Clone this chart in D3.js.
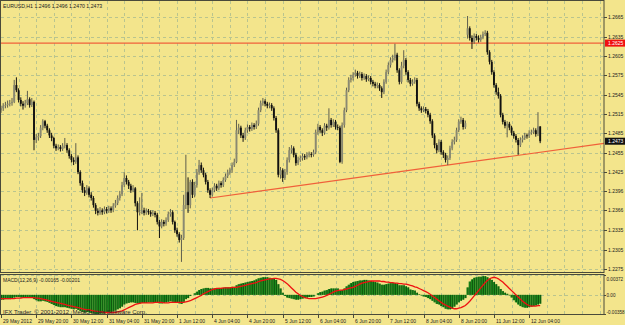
<!DOCTYPE html>
<html>
<head>
<meta charset="utf-8">
<style>
  html, body { margin: 0; padding: 0; background: #f3e58c; }
  svg { display: block; }
  text { font-family: "Liberation Sans", Arial, sans-serif; }
</style>
</head>
<body>
<svg width="625" height="325"></svg>
<script src="https://cdn.jsdelivr.net/npm/d3@7"></script>
<script type="module">
    const width = 625;
    const height = 325;

    // EURUSD H1, first bar = 29 May 2012 04:00
    const opens = [
        1.2521,1.2524,1.2528,1.2529,1.2531,1.2532,1.2534,1.2560,1.2552,1.2537,1.2531,1.2528,1.2532,1.2538,1.2529,1.2534,1.2475,1.2479,1.2481,1.2494,
        1.2504,1.2497,1.2490,1.2482,1.2478,1.2466,1.2462,1.2464,1.2461,1.2466,1.2467,1.2459,1.2450,1.2444,1.2441,1.2448,1.2425,1.2408,1.2397,1.2393,
        1.2400,1.2390,1.2385,1.2374,1.2365,1.2362,1.2366,1.2363,1.2368,1.2365,1.2369,1.2366,1.2373,1.2377,1.2385,1.2391,1.2405,1.2416,1.2410,1.2404,
        1.2397,1.2400,1.2377,1.2363,1.2363,1.2366,1.2362,1.2365,1.2363,1.2360,1.2362,1.2359,1.2348,1.2341,1.2348,1.2345,1.2351,1.2360,1.2363,1.2348,
        1.2335,1.2329,1.2320,1.2323,1.2374,1.2394,1.2374,1.2410,1.2390,1.2405,1.2425,1.2436,1.2428,1.2421,1.2410,1.2397,1.2390,1.2397,1.2404,1.2400,
        1.2408,1.2405,1.2413,1.2419,1.2425,1.2428,1.2436,1.2441,1.2490,1.2494,1.2482,1.2478,1.2490,1.2495,1.2492,1.2498,1.2495,1.2500,1.2521,1.2532,
        1.2535,1.2531,1.2528,1.2529,1.2524,1.2509,1.2490,1.2421,1.2428,1.2416,1.2425,1.2444,1.2459,1.2462,1.2452,1.2439,1.2444,1.2447,1.2450,1.2448,
        1.2452,1.2453,1.2452,1.2456,1.2487,1.2495,1.2490,1.2486,1.2497,1.2494,1.2506,1.2498,1.2503,1.2495,1.2494,1.2441,1.2498,1.2521,1.2552,1.2568,
        1.2571,1.2576,1.2579,1.2574,1.2577,1.2571,1.2574,1.2569,1.2571,1.2565,1.2562,1.2559,1.2560,1.2555,1.2549,1.2565,1.2580,1.2591,1.2599,1.2602,
        1.2607,1.2583,1.2565,1.2590,1.2599,1.2580,1.2568,1.2562,1.2565,1.2568,1.2531,1.2524,1.2521,1.2523,1.2520,1.2514,1.2504,1.2482,1.2467,1.2459,
        1.2472,1.2456,1.2452,1.2444,1.2447,1.2462,1.2472,1.2475,1.2490,1.2503,1.2506,1.2495,1.2638,1.2648,1.2633,1.2627,1.2636,1.2633,1.2630,1.2634,
        1.2639,1.2641,1.2611,1.2596,1.2580,1.2560,1.2549,1.2543,1.2514,1.2503,1.2497,1.2500,1.2494,1.2486,1.2481,1.2475,1.2467,1.2475,1.2478,1.2482,
        1.2481,1.2486,1.2487,1.2490,1.2484,1.2496
    ];
    const highs = [
        1.2528,1.2532,1.2534,1.2536,1.2537,1.2540,1.2568,1.2572,1.2555,1.2541,1.2535,1.2537,1.2551,1.2541,1.2540,1.2536,1.2484,1.2486,1.2498,1.2507,
        1.2506,1.2500,1.2493,1.2486,1.2480,1.2469,1.2468,1.2467,1.2470,1.2478,1.2470,1.2462,1.2453,1.2448,1.2470,1.2451,1.2428,1.2412,1.2402,1.2405,
        1.2403,1.2394,1.2388,1.2377,1.2369,1.2371,1.2369,1.2372,1.2371,1.2373,1.2372,1.2377,1.2382,1.2389,1.2396,1.2410,1.2425,1.2420,1.2413,1.2407,
        1.2405,1.2402,1.2380,1.2386,1.2393,1.2370,1.2369,1.2368,1.2366,1.2366,1.2365,1.2362,1.2351,1.2352,1.2351,1.2355,1.2364,1.2368,1.2366,1.2350,
        1.2339,1.2332,1.2328,1.2390,1.2452,1.2417,1.2413,1.2414,1.2410,1.2430,1.2444,1.2440,1.2432,1.2424,1.2413,1.2400,1.2401,1.2408,1.2407,1.2412,
        1.2411,1.2417,1.2423,1.2429,1.2432,1.2440,1.2446,1.2506,1.2500,1.2497,1.2486,1.2494,1.2499,1.2498,1.2502,1.2501,1.2505,1.2525,1.2536,1.2540,
        1.2538,1.2534,1.2533,1.2532,1.2527,1.2512,1.2493,1.2433,1.2431,1.2430,1.2448,1.2464,1.2467,1.2465,1.2455,1.2449,1.2451,1.2454,1.2453,1.2456,
        1.2457,1.2456,1.2460,1.2491,1.2500,1.2498,1.2493,1.2501,1.2500,1.2524,1.2509,1.2507,1.2506,1.2499,1.2497,1.2502,1.2525,1.2556,1.2572,1.2576,
        1.2580,1.2584,1.2582,1.2581,1.2580,1.2578,1.2577,1.2575,1.2574,1.2568,1.2565,1.2564,1.2563,1.2558,1.2569,1.2584,1.2595,1.2603,1.2607,1.2624,
        1.2610,1.2586,1.2596,1.2614,1.2602,1.2583,1.2571,1.2569,1.2572,1.2571,1.2534,1.2527,1.2527,1.2526,1.2523,1.2517,1.2507,1.2485,1.2470,1.2476,
        1.2475,1.2459,1.2455,1.2451,1.2466,1.2476,1.2480,1.2494,1.2507,1.2511,1.2509,1.2505,1.2667,1.2651,1.2637,1.2640,1.2639,1.2637,1.2638,1.2643,
        1.2645,1.2644,1.2614,1.2599,1.2583,1.2563,1.2556,1.2546,1.2517,1.2506,1.2504,1.2503,1.2497,1.2489,1.2484,1.2478,1.2479,1.2482,1.2486,1.2485,
        1.2490,1.2491,1.2494,1.2493,1.2518,1.2496
    ];
    const lows = [
        1.2517,1.2520,1.2524,1.2525,1.2527,1.2528,1.2532,1.2549,1.2533,1.2527,1.2522,1.2525,1.2529,1.2525,1.2526,1.2459,1.2470,1.2474,1.2478,1.2490,
        1.2493,1.2486,1.2478,1.2473,1.2462,1.2458,1.2459,1.2457,1.2458,1.2462,1.2455,1.2446,1.2440,1.2436,1.2438,1.2422,1.2404,1.2393,1.2388,1.2390,
        1.2386,1.2381,1.2370,1.2360,1.2358,1.2359,1.2359,1.2360,1.2361,1.2362,1.2362,1.2363,1.2370,1.2374,1.2381,1.2388,1.2402,1.2406,1.2399,1.2393,
        1.2394,1.2372,1.2335,1.2358,1.2360,1.2358,1.2359,1.2359,1.2356,1.2357,1.2355,1.2344,1.2323,1.2338,1.2341,1.2342,1.2348,1.2356,1.2344,1.2331,
        1.2325,1.2316,1.2286,1.2320,1.2368,1.2362,1.2369,1.2385,1.2386,1.2401,1.2421,1.2424,1.2417,1.2406,1.2393,1.2385,1.2387,1.2394,1.2396,1.2397,
        1.2401,1.2402,1.2410,1.2416,1.2421,1.2424,1.2433,1.2439,1.2484,1.2478,1.2472,1.2475,1.2486,1.2488,1.2489,1.2491,1.2492,1.2497,1.2518,1.2528,
        1.2527,1.2524,1.2524,1.2520,1.2505,1.2486,1.2417,1.2415,1.2410,1.2413,1.2421,1.2440,1.2454,1.2448,1.2435,1.2436,1.2441,1.2443,1.2444,1.2445,
        1.2448,1.2448,1.2449,1.2453,1.2483,1.2486,1.2481,1.2483,1.2489,1.2491,1.2494,1.2495,1.2491,1.2490,1.2439,1.2438,1.2494,1.2518,1.2549,1.2564,
        1.2567,1.2573,1.2570,1.2571,1.2567,1.2568,1.2565,1.2566,1.2561,1.2558,1.2555,1.2555,1.2551,1.2540,1.2546,1.2562,1.2577,1.2587,1.2595,1.2598,
        1.2579,1.2561,1.2562,1.2586,1.2576,1.2564,1.2558,1.2559,1.2562,1.2527,1.2520,1.2517,1.2518,1.2516,1.2510,1.2500,1.2478,1.2462,1.2454,1.2456,
        1.2452,1.2447,1.2440,1.2436,1.2444,1.2459,1.2468,1.2472,1.2487,1.2500,1.2491,1.2492,1.2632,1.2629,1.2616,1.2624,1.2629,1.2626,1.2627,1.2631,
        1.2636,1.2607,1.2592,1.2576,1.2556,1.2545,1.2539,1.2510,1.2499,1.2493,1.2479,1.2490,1.2482,1.2477,1.2471,1.2452,1.2464,1.2471,1.2475,1.2477,
        1.2478,1.2483,1.2484,1.2480,1.2481,1.2470
    ];
    const closes = [
        1.2524,1.2528,1.2529,1.2531,1.2532,1.2534,1.2560,1.2552,1.2537,1.2531,1.2528,1.2532,1.2538,1.2529,1.2534,1.2475,1.2479,1.2481,1.2494,1.2504,
        1.2497,1.2490,1.2482,1.2478,1.2466,1.2462,1.2464,1.2461,1.2466,1.2467,1.2459,1.2450,1.2444,1.2441,1.2448,1.2425,1.2408,1.2397,1.2393,1.2400,
        1.2390,1.2385,1.2374,1.2365,1.2362,1.2366,1.2363,1.2368,1.2365,1.2369,1.2366,1.2373,1.2377,1.2385,1.2391,1.2405,1.2416,1.2410,1.2404,1.2397,
        1.2400,1.2377,1.2363,1.2363,1.2366,1.2362,1.2365,1.2363,1.2360,1.2362,1.2359,1.2348,1.2341,1.2348,1.2345,1.2351,1.2360,1.2363,1.2348,1.2335,
        1.2329,1.2320,1.2323,1.2374,1.2394,1.2374,1.2410,1.2390,1.2405,1.2425,1.2436,1.2428,1.2421,1.2410,1.2397,1.2390,1.2397,1.2404,1.2400,1.2408,
        1.2405,1.2413,1.2419,1.2425,1.2428,1.2436,1.2441,1.2490,1.2494,1.2482,1.2478,1.2490,1.2495,1.2492,1.2498,1.2495,1.2500,1.2521,1.2532,1.2535,
        1.2531,1.2528,1.2529,1.2524,1.2509,1.2490,1.2421,1.2428,1.2416,1.2425,1.2444,1.2459,1.2462,1.2452,1.2439,1.2444,1.2447,1.2450,1.2448,1.2452,
        1.2453,1.2452,1.2456,1.2487,1.2495,1.2490,1.2486,1.2497,1.2494,1.2506,1.2498,1.2503,1.2495,1.2494,1.2441,1.2498,1.2521,1.2552,1.2568,1.2571,
        1.2576,1.2579,1.2574,1.2577,1.2571,1.2574,1.2569,1.2571,1.2565,1.2562,1.2559,1.2560,1.2555,1.2549,1.2565,1.2580,1.2591,1.2599,1.2602,1.2607,
        1.2583,1.2565,1.2590,1.2599,1.2580,1.2568,1.2562,1.2565,1.2568,1.2531,1.2524,1.2521,1.2523,1.2520,1.2514,1.2504,1.2482,1.2467,1.2459,1.2472,
        1.2456,1.2452,1.2444,1.2447,1.2462,1.2472,1.2475,1.2490,1.2503,1.2506,1.2495,1.2501,1.2648,1.2633,1.2627,1.2636,1.2633,1.2630,1.2634,1.2639,
        1.2641,1.2611,1.2596,1.2580,1.2560,1.2549,1.2543,1.2514,1.2503,1.2497,1.2500,1.2494,1.2486,1.2481,1.2475,1.2467,1.2475,1.2478,1.2482,1.2481,
        1.2486,1.2487,1.2490,1.2484,1.2496,1.2473
    ];

    const macdMain = [
        -0.0009,-0.0009,-0.0008,-0.0008,-0.0008,-0.0007,-0.0005,-0.0004,-0.0004,-0.0005,-0.0005,-0.0005,-0.0004,-0.0005,-0.0005,-0.0008,-0.0010,-0.0012,-0.0012,-0.0011,
        -0.0012,-0.0013,-0.0015,-0.0017,-0.0019,-0.0021,-0.0022,-0.0023,-0.0023,-0.0023,-0.0024,-0.0025,-0.0026,-0.0027,-0.0026,-0.0028,-0.0030,-0.0032,-0.0033,-0.0032,
        -0.0033,-0.0034,-0.0035,-0.0036,-0.0036,-0.0035,-0.0035,-0.0035,-0.0034,-0.0033,-0.0032,-0.0031,-0.0029,-0.0027,-0.0025,-0.0022,-0.0018,-0.0016,-0.0015,-0.0014,
        -0.0014,-0.0015,-0.0016,-0.0016,-0.0015,-0.0015,-0.0015,-0.0014,-0.0014,-0.0014,-0.0014,-0.0015,-0.0016,-0.0016,-0.0015,-0.0014,-0.0013,-0.0012,-0.0013,-0.0014,
        -0.0015,-0.0016,-0.0017,-0.0013,-0.0008,-0.0006,-0.0002,0.0000,0.0003,0.0006,0.0009,0.0011,0.0012,0.0013,0.0013,0.0012,0.0012,0.0012,0.0012,0.0013,
        0.0013,0.0013,0.0014,0.0014,0.0014,0.0015,0.0015,0.0018,0.0020,0.0021,0.0022,0.0023,0.0024,0.0025,0.0026,0.0027,0.0029,0.0031,0.0032,0.0033,
        0.0033,0.0033,0.0032,0.0031,0.0030,0.0028,0.0020,0.0012,0.0004,-0.0002,-0.0005,-0.0006,-0.0007,-0.0008,-0.0009,-0.0009,-0.0008,-0.0007,-0.0006,-0.0005,
        -0.0004,-0.0004,-0.0003,0.0000,0.0003,0.0005,0.0006,0.0008,0.0009,0.0011,0.0012,0.0012,0.0012,0.0012,0.0008,0.0009,0.0012,0.0016,0.0019,0.0022,
        0.0024,0.0025,0.0026,0.0027,0.0027,0.0028,0.0028,0.0027,0.0026,0.0025,0.0024,0.0023,0.0021,0.0019,0.0019,0.0020,0.0021,0.0022,0.0022,0.0022,
        0.0021,0.0018,0.0018,0.0018,0.0016,0.0014,0.0010,0.0009,0.0008,0.0004,0.0001,-0.0001,-0.0003,-0.0004,-0.0006,-0.0008,-0.0011,-0.0014,-0.0017,-0.0018,
        -0.0021,-0.0023,-0.0026,-0.0027,-0.0027,-0.0026,-0.0022,-0.0018,-0.0014,-0.0011,-0.0009,-0.0006,0.0014,0.0025,0.0029,0.0032,0.0033,0.0034,0.0034,0.0035,
        0.0035,0.0033,0.0030,0.0028,0.0024,0.0020,0.0016,0.0011,0.0007,0.0004,0.0002,-0.0001,-0.0005,-0.0010,-0.0014,-0.0018,-0.0021,-0.0023,-0.0024,-0.0024,
        -0.0023,-0.0022,-0.0021,-0.0020,-0.0018,-0.00165
    ];
    const macdSignal = [
        -0.0007,-0.0007,-0.0007,-0.0007,-0.0007,-0.0007,-0.0007,-0.0006,-0.0006,-0.0006,-0.0005,-0.0005,-0.0005,-0.0005,-0.0005,-0.0005,-0.0006,-0.0006,-0.0007,-0.0008,
        -0.0009,-0.0010,-0.0011,-0.0012,-0.0013,-0.0014,-0.0015,-0.0016,-0.0017,-0.0018,-0.0019,-0.0020,-0.0021,-0.0022,-0.0023,-0.0024,-0.0025,-0.0026,-0.0027,-0.0028,
        -0.0028,-0.0029,-0.0030,-0.0031,-0.0031,-0.0032,-0.0032,-0.0033,-0.0033,-0.0033,-0.0033,-0.0033,-0.0033,-0.0032,-0.0031,-0.0030,-0.0028,-0.0026,-0.0024,-0.0022,
        -0.0020,-0.0018,-0.0017,-0.0016,-0.0015,-0.0015,-0.0015,-0.0015,-0.0015,-0.0015,-0.0014,-0.0014,-0.0014,-0.0014,-0.0015,-0.0015,-0.0015,-0.0014,-0.0014,-0.0014,
        -0.0014,-0.0014,-0.0014,-0.0014,-0.0013,-0.0012,-0.0011,-0.0009,-0.0007,-0.0005,-0.0003,-0.0001,0.0002,0.0004,0.0006,0.0008,0.0010,0.0011,0.0012,0.0012,
        0.0012,0.0013,0.0013,0.0013,0.0013,0.0014,0.0014,0.0014,0.0015,0.0016,0.0017,0.0018,0.0019,0.0020,0.0021,0.0022,0.0023,0.0025,0.0026,0.0027,
        0.0028,0.0029,0.0030,0.0030,0.0031,0.0031,0.0030,0.0029,0.0027,0.0024,0.0021,0.0017,0.0013,0.0009,0.0005,0.0002,-0.0001,-0.0003,-0.0005,-0.0006,
        -0.0007,-0.0007,-0.0007,-0.0007,-0.0006,-0.0005,-0.0004,-0.0003,-0.0001,0.0001,0.0003,0.0005,0.0007,0.0008,0.0009,0.0009,0.0010,0.0011,0.0012,0.0013,
        0.0014,0.0016,0.0018,0.0020,0.0022,0.0023,0.0024,0.0025,0.0026,0.0026,0.0026,0.0026,0.0026,0.0025,0.0025,0.0024,0.0024,0.0023,0.0023,0.0022,
        0.0022,0.0021,0.0021,0.0020,0.0020,0.0019,0.0018,0.0017,0.0015,0.0014,0.0012,0.0010,0.0008,0.0006,0.0004,0.0001,-0.0002,-0.0005,-0.0008,-0.0011,
        -0.0014,-0.0017,-0.0019,-0.0021,-0.0023,-0.0025,-0.0026,-0.0026,-0.0025,-0.0024,-0.0022,-0.0020,-0.0016,-0.0012,-0.0007,-0.0002,0.0003,0.0008,0.0013,0.0018,
        0.0023,0.0027,0.0030,0.0032,0.0033,0.0032,0.0030,0.0027,0.0024,0.0020,0.0016,0.0012,0.0008,0.0004,0.0000,-0.0004,-0.0008,-0.0012,-0.0015,-0.0018,
        -0.0020,-0.0021,-0.0021,-0.0021,-0.0020,-0.00201
    ];

    // one time label every 16 bars
    const timeLabels = ["29 May 2012","29 May 20:00","30 May 12:00","31 May 04:00","31 May 20:00","1 Jun 12:00",
        "4 Jun 04:00","4 Jun 20:00","5 Jun 12:00","6 Jun 04:00","6 Jun 20:00","7 Jun 12:00",
        "8 Jun 04:00","8 Jun 20:00","11 Jun 12:00","12 Jun 04:00"];
    const priceTicks = [1.2665,1.2635,1.2605,1.2575,1.2545,1.2515,1.2485,1.2455,1.2425,1.2396,1.2366,1.2335,1.2305,1.2275];
    const macdTicks = [0.00372, 0, -0.00358];
    const macdTickLabels = ["0.00372", "0.00", "-0.00358"];

    const hLine = 1.2625;
    const trendStart = { bar: 95, price: 1.2385 };
    const trendEnd = { bar: 203, price: 1.2436 };

    const bg = "#f3e58c";
    const gridColor = "#b9c48f";

    const svg = d3.select("svg")
        .attr("width", width)
        .attr("height", height)
        .attr("viewBox", [0, 0, width, height]);

    svg.append("rect").attr("width", width).attr("height", height).attr("fill", bg);

    const left = 1, right = 604;
    const mainTop = 1, mainBottom = 272;
    const subTop = 275, subBottom = 314;

    const x = d3.scaleLinear().domain([0, 274]).range([left, right]);
    const y = d3.scaleLinear().domain([1.2275, 1.2665]).range([269, 17.3]);
    const ym = d3.scaleLinear().domain([-0.00358, 0.00372]).range([subBottom, subTop]);

    const bars = closes.map((c, i) => ({ i, o: opens[i], h: highs[i], l: lows[i], c }));

    // grid
    const gridBars = d3.range(8, 274, 8);
    const grid = svg.append("g")
        .attr("stroke", gridColor)
        .attr("stroke-width", 1)
        .attr("stroke-dasharray", "3,3");
    grid.selectAll("line.v").data(gridBars).enter().append("line")
        .attr("x1", d => Math.round(x(d)) + 0.5).attr("x2", d => Math.round(x(d)) + 0.5)
        .attr("y1", mainTop).attr("y2", mainBottom);
    grid.selectAll("line.h").data(priceTicks).enter().append("line")
        .attr("x1", left).attr("x2", right)
        .attr("y1", d => Math.round(y(d)) + 0.5).attr("y2", d => Math.round(y(d)) + 0.5);
    grid.selectAll("line.vs").data(gridBars).enter().append("line")
        .attr("x1", d => Math.round(x(d)) + 0.5).attr("x2", d => Math.round(x(d)) + 0.5)
        .attr("y1", subTop).attr("y2", subBottom);
    grid.selectAll("line.hs").data(macdTicks).enter().append("line")
        .attr("x1", left).attr("x2", right)
        .attr("y1", d => Math.round(ym(d)) + 0.5).attr("y2", d => Math.round(ym(d)) + 0.5);

    // horizontal level + trend line
    svg.append("line")
        .attr("x1", left).attr("x2", right)
        .attr("y1", y(hLine)).attr("y2", y(hLine))
        .attr("stroke", "#f0603a").attr("stroke-width", 1.2);

    const slope = (trendEnd.price - trendStart.price) / (trendEnd.bar - trendStart.bar);
    svg.append("line")
        .attr("x1", x(trendStart.bar)).attr("y1", y(trendStart.price))
        .attr("x2", x(274)).attr("y2", y(trendStart.price + slope * (274 - trendStart.bar)))
        .attr("stroke", "#f0603a").attr("stroke-width", 1.2);

    // candles
    const candles = svg.append("g").attr("class", "candles");
    candles.selectAll("line").data(bars).enter().append("line")
        .attr("x1", d => x(d.i)).attr("x2", d => x(d.i))
        .attr("y1", d => y(d.h)).attr("y2", d => y(d.l))
        .attr("stroke", d => d.c >= d.o ? "#5f5f4e" : "#111")
        .attr("stroke-width", 1);
    candles.selectAll("rect").data(bars).enter().append("rect")
        .attr("x", d => x(d.i) - 0.95)
        .attr("width", 1.9)
        .attr("y", d => y(Math.max(d.o, d.c)))
        .attr("height", d => Math.max(0.8, Math.abs(y(d.o) - y(d.c))))
        .attr("fill", d => d.c >= d.o ? "#8a8972" : "#111");

    // MACD histogram + signal
    const macd = svg.append("g").attr("class", "macd");
    macd.selectAll("rect").data(macdMain).enter().append("rect")
        .attr("x", (d, i) => x(i) - 1.1)
        .attr("width", 2.2)
        .attr("y", d => Math.min(ym(d), ym(0)))
        .attr("height", d => Math.abs(ym(d) - ym(0)))
        .attr("fill", "#1b8a1b");
    macd.selectAll("line").data(macdMain).enter().append("line")
        .attr("x1", (d, i) => x(i) + 0.5).attr("x2", (d, i) => x(i) + 0.5)
        .attr("y1", d => ym(d)).attr("y2", ym(0))
        .attr("stroke", "#0a400a").attr("stroke-width", 0.7);
    macd.append("path")
        .datum(macdSignal)
        .attr("fill", "none")
        .attr("stroke", "#ee1111")
        .attr("stroke-width", 1.3)
        .attr("d", d3.line().x((d, i) => x(i)).y(d => ym(d)));

    // frames
    const frame = svg.append("g").attr("fill", "none").attr("stroke", "#4a4a3a").attr("stroke-width", 1);
    frame.append("rect").attr("x", 0.5).attr("y", 0.5).attr("width", right - 0.5).attr("height", mainBottom);
    frame.append("rect").attr("x", 0.5).attr("y", subTop - 0.5).attr("width", right - 0.5).attr("height", subBottom - subTop + 1);

    // price axis
    const axisG = svg.append("g").attr("font-size", 5).attr("fill", "#222");
    priceTicks.forEach(p => {
        const yy = Math.round(y(p)) + 0.5;
        axisG.append("line").attr("x1", right).attr("x2", right + 3).attr("y1", yy).attr("y2", yy).attr("stroke", "#4a4a3a");
        axisG.append("text").attr("x", right + 4).attr("y", yy).attr("dy", "0.35em").text(p.toFixed(4));
    });

    function priceTag(p, fill) {
        const yy = y(p);
        axisG.append("rect").attr("x", right + 1).attr("y", yy - 3.5).attr("width", 20).attr("height", 7).attr("fill", fill);
        axisG.append("text").attr("x", right + 4).attr("y", yy).attr("dy", "0.35em").attr("fill", "#fff").text(p.toFixed(4));
    }
    priceTag(hLine, "#f01010");
    priceTag(closes[closes.length - 1], "#111");

    macdTicks.forEach((v, k) => {
        const yy = Math.round(ym(v)) + 0.5;
        const off = k === 0 ? 4 : (k === 2 ? -2 : 0);
        axisG.append("line").attr("x1", right).attr("x2", right + 2).attr("y1", yy).attr("y2", yy).attr("stroke", "#4a4a3a");
        axisG.append("text").attr("x", right + 2.5).attr("y", yy + off).attr("dy", "0.35em")
            .attr("font-size", 4.6).text(macdTickLabels[k]);
    });

    // time axis
    timeLabels.forEach((t, k) => {
        const xx = Math.round(x(k * 16)) + 0.5;
        axisG.append("line").attr("x1", xx).attr("x2", xx).attr("y1", subBottom + 1).attr("y2", subBottom + 4).attr("stroke", "#4a4a3a");
        axisG.append("text").attr("x", xx + 1.5).attr("y", 322.5).text(t);
    });

    // captions
    const last = bars[bars.length - 1];
    svg.append("text").attr("x", 3).attr("y", 8).attr("font-size", 5.2).attr("fill", "#222")
        .text("EURUSD,H1  " + [last.o, last.h, last.l, last.c].map(v => v.toFixed(4)).join(" "));
    svg.append("text").attr("x", 3).attr("y", 281.5).attr("font-size", 5).attr("fill", "#222")
        .text("MACD(12,26,9) " + macdMain[macdMain.length - 1].toFixed(5) + " " + macdSignal[macdSignal.length - 1].toFixed(5));
    svg.append("text").attr("x", 3).attr("y", 313.5).attr("font-size", 6).attr("fill", "#2a2a2a")
        .text("IFX Trader, \u00a9 2001-2012, MetaQuotes Software Corp.");
</script>
</body>
</html>
